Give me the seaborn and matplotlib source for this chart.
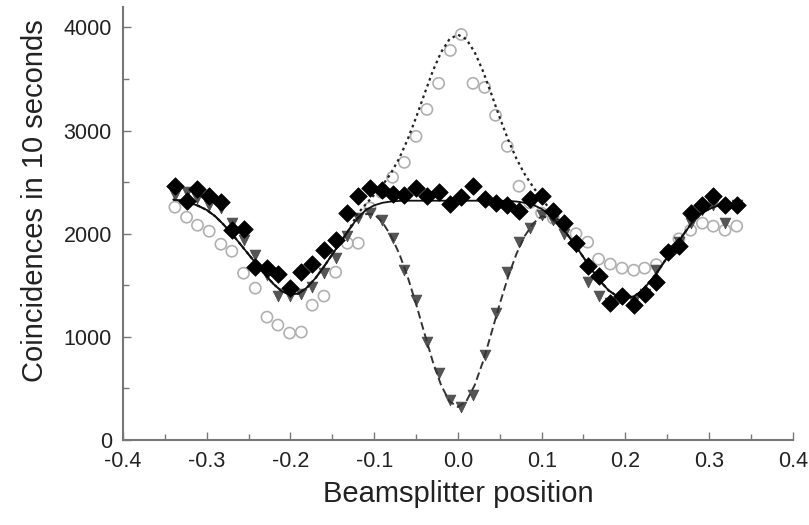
import matplotlib
matplotlib.use("Agg")
import matplotlib.pyplot as plt
import seaborn as sns
import pandas as pd
from matplotlib.ticker import MultipleLocator

# ---------------- data ----------------
pos = [-0.338, -0.324, -0.311, -0.297, -0.283, -0.270, -0.256, -0.242, -0.228, -0.215,
       -0.201, -0.187, -0.174, -0.160, -0.146, -0.132, -0.119, -0.105, -0.091, -0.078,
       -0.064, -0.050, -0.037, -0.023, -0.009, 0.004, 0.018, 0.032, 0.045, 0.059,
       0.073, 0.086, 0.100, 0.114, 0.127, 0.141, 0.155, 0.168, 0.182, 0.196,
       0.210, 0.223, 0.237, 0.251, 0.264, 0.278, 0.292, 0.305, 0.319, 0.333]

diamonds = [2460, 2315, 2430, 2365, 2305, 2035, 2045, 1675, 1665, 1610,
            1470, 1625, 1705, 1840, 1935, 2200, 2365, 2440, 2420, 2385,
            2375, 2440, 2365, 2400, 2285, 2355, 2460, 2335, 2295, 2275,
            2220, 2335, 2365, 2220, 2100, 1910, 1685, 1590, 1325, 1395,
            1305, 1415, 1530, 1820, 1880, 2200, 2275, 2365, 2275, 2275]

triangles = [2380, 2400, 2350, 2280, 2250, 2100, 1940, 1790, 1600, 1400,
             1400, 1420, 1480, 1620, 1760, 1980, 2150, 2200, 2130, 1960,
             1650, 1360, 950, 650, 390, 320, 440, 820, 1230, 1630,
             1920, 2060, 2180, 2130, 2000, 1870, 1530, 1400, 1330, 1380,
             1350, 1420, 1650, 1790, 1920, 2100, 2230, 2280, 2100, 2280]

circles = [2257, 2160, 2082, 2024, 1898, 1830, 1617, 1472, 1191, 1114,
           1036, 1046, 1307, 1395, 1627, 1908, 1908, 2250, 2400, 2547,
           2692, 2944, 3205, 3458, 3777, 3932, 3458, 3419, 3148, 2847,
           2460, 2300, 2200, 2150, 2080, 2000, 1918, 1753, 1705, 1666,
           1646, 1666, 1700, 1820, 1950, 2034, 2102, 2073, 2034, 2073]

# fitted curves, sampled every 0.01
curve_x = [-0.34, -0.33, -0.32, -0.31, -0.30, -0.29, -0.28, -0.27, -0.26, -0.25,
           -0.24, -0.23, -0.22, -0.21, -0.20, -0.19, -0.18, -0.17, -0.16, -0.15,
           -0.14, -0.13, -0.12, -0.11, -0.10, -0.09, -0.08, -0.07, -0.06, -0.05,
           -0.04, -0.03, -0.02, -0.01, 0.00, 0.01, 0.02, 0.03, 0.04, 0.05,
           0.06, 0.07, 0.08, 0.09, 0.10, 0.11, 0.12, 0.13, 0.14, 0.15,
           0.16, 0.17, 0.18, 0.19, 0.20, 0.21, 0.22, 0.23, 0.24, 0.25,
           0.26, 0.27, 0.28, 0.29, 0.30, 0.31, 0.32, 0.33, 0.34]

fit_solid = [2330, 2320, 2300, 2270, 2230, 2170, 2090, 2000, 1900, 1800,
             1700, 1600, 1510, 1440, 1410, 1420, 1480, 1570, 1680, 1800,
             1920, 2040, 2150, 2230, 2275, 2300, 2312, 2318, 2320, 2320,
             2320, 2320, 2320, 2320, 2320, 2320, 2320, 2320, 2320, 2320,
             2318, 2312, 2300, 2280, 2240, 2180, 2100, 2000, 1890, 1770,
             1650, 1540, 1450, 1395, 1375, 1390, 1450, 1540, 1650, 1770,
             1880, 2000, 2110, 2190, 2240, 2270, 2280, 2280, 2280]

fit_dip = [2330, 2320, 2300, 2270, 2230, 2170, 2090, 2000, 1900, 1800,
           1700, 1600, 1510, 1440, 1410, 1420, 1480, 1570, 1680, 1800,
           1920, 2040, 2140, 2190, 2190, 2110, 1980, 1806, 1582, 1320,
           1036, 760, 530, 374, 320, 374, 530, 760, 1036, 1320,
           1582, 1806, 1980, 2100, 2170, 2150, 2090, 2000, 1890, 1770,
           1650, 1540, 1450, 1395, 1375, 1390, 1450, 1540, 1650, 1770,
           1880, 2000, 2110, 2190, 2240, 2270, 2280, 2280, 2280]

fit_peak = [2330, 2320, 2300, 2270, 2230, 2170, 2090, 2000, 1900, 1800,
            1700, 1600, 1510, 1440, 1410, 1420, 1480, 1570, 1680, 1800,
            1920, 2040, 2190, 2286, 2376, 2470, 2586, 2732, 2914, 3125,
            3354, 3576, 3761, 3887, 3930, 3887, 3761, 3576, 3354, 3125,
            2912, 2726, 2574, 2451, 2341, 2236, 2130, 2000, 1890, 1770,
            1650, 1540, 1450, 1395, 1375, 1390, 1450, 1540, 1650, 1770,
            1880, 2000, 2110, 2190, 2240, 2270, 2280, 2280, 2280]

x_ticks = [-0.4, -0.3, -0.2, -0.1, 0.0, 0.1, 0.2, 0.3, 0.4]
x_ticklabels = ["-0.4", "-0.3", "-0.2", "-0.1", "0.0", "0.1", "0.2", "0.3", "0.4"]
y_ticks = [0, 1000, 2000, 3000, 4000]
y_ticklabels = ["0", "1000", "2000", "3000", "4000"]

# ---------------- plotting ----------------
sns.set_style("ticks")
plt.rcParams["font.family"] = ["Liberation Sans", "DejaVu Sans"]

pts = pd.DataFrame({"pos": pos, "diamonds": diamonds,
                    "triangles": triangles, "circles": circles})
cur = pd.DataFrame({"x": curve_x, "solid": fit_solid,
                    "dip": fit_dip, "peak": fit_peak})

fig = plt.figure(figsize=(8.09, 5.25), dpi=100)
ax = fig.add_axes([0.152, 0.162, 0.828, 0.825])

sns.scatterplot(data=pts, x="pos", y="circles", ax=ax, marker="o", s=65,
                facecolor="none", edgecolor="#b0b0b0", linewidth=1.2, zorder=2)
sns.scatterplot(data=pts, x="pos", y="triangles", ax=ax, marker="v", s=60,
                color="#555555", edgecolor="#444444", linewidth=0.5, zorder=3)

sns.lineplot(data=cur, x="x", y="peak", ax=ax, color="#222222", lw=1.6,
             zorder=4).lines[-1].set_dashes([1.2, 1.6])
sns.lineplot(data=cur, x="x", y="dip", ax=ax, color="#333333", lw=1.4,
             zorder=4).lines[-1].set_dashes([4, 2])
sns.lineplot(data=cur, x="x", y="solid", ax=ax, color="#111111", lw=1.3, zorder=5)

sns.scatterplot(data=pts, x="pos", y="diamonds", ax=ax, marker="D", s=80,
                color="black", edgecolor="black", linewidth=0.5, zorder=6)

ax.set_xlim(-0.4, 0.4)
ax.set_ylim(0, 4200)
ax.set_xticks(x_ticks)
ax.set_xticklabels(x_ticklabels)
ax.set_yticks(y_ticks)
ax.set_yticklabels(y_ticklabels)
ax.xaxis.set_minor_locator(MultipleLocator(0.05))
ax.yaxis.set_minor_locator(MultipleLocator(500))
ax.tick_params(which="major", direction="in", length=6, width=1.0,
               color="#777777", labelsize=15.5, labelcolor="#222222", pad=8)
ax.tick_params(which="minor", direction="in", length=4, width=1.0, color="#777777")

for side in ["top", "right"]:
    ax.spines[side].set_visible(False)
for side in ["left", "bottom"]:
    ax.spines[side].set_color("#777777")
    ax.spines[side].set_linewidth(1.5)

ax.set_xlabel("Beamsplitter position", fontsize=21, color="#222222", labelpad=6)
ax.set_ylabel("Coincidences in 10 seconds", fontsize=21, color="#222222")
ax.yaxis.set_label_coords(-0.11, 0.552)

fig.savefig("out.png", dpi=100)
